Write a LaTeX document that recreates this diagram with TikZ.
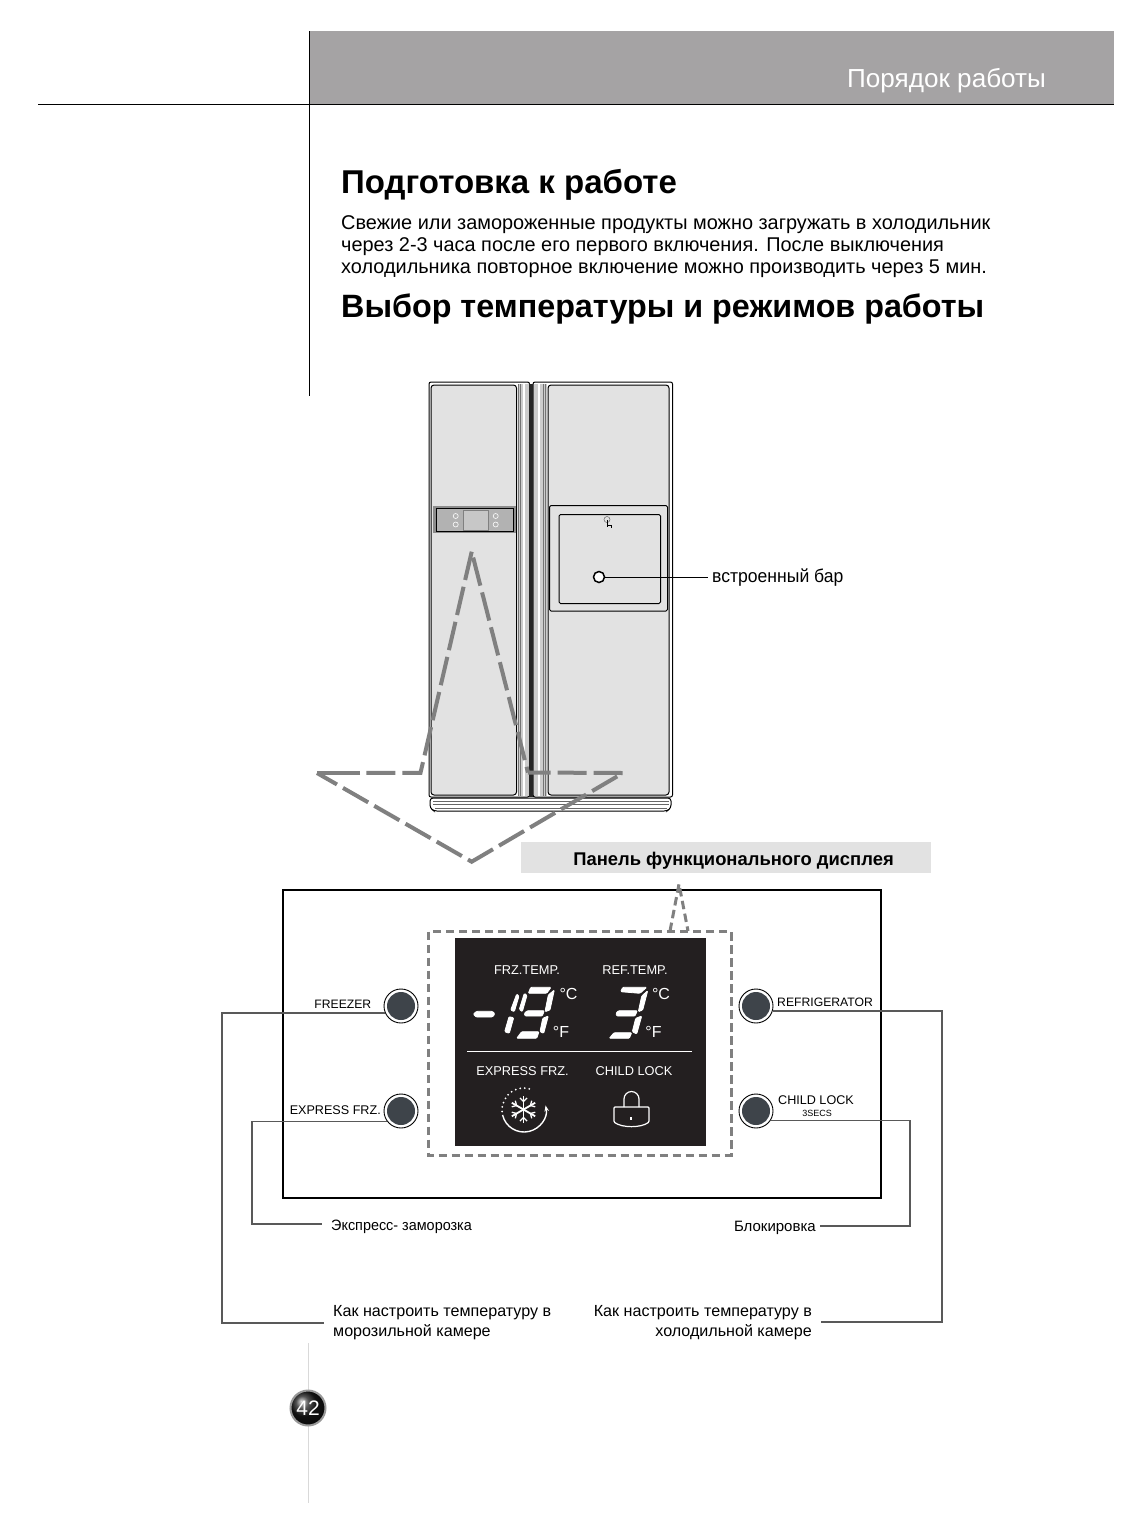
\documentclass[tikz,border=0pt]{standalone}
\usepackage{fontspec}
\setmainfont{Liberation Sans}
\usepackage{xcolor}
\usetikzlibrary{arrows.meta, positioning}
\definecolor{headgray}{HTML}{A5A3A4}
\definecolor{doorgray}{HTML}{E2E2E2}
\definecolor{dashgray}{HTML}{808080}
\definecolor{btngray}{HTML}{3E444A}
\definecolor{lcdblack}{HTML}{231F20}
\tikzset{
    txt/.style={inner sep=0pt, anchor=west, align=left},
    heading/.style={txt, font=\fontsize{32.3}{36}\selectfont\bfseries},
    bodytxt/.style={txt, font=\fontsize{19.9}{22.5}\selectfont},
    lbl/.style={inner sep=0pt, font=\fontsize{16.1}{20}\selectfont},
    btnlbl/.style={inner sep=0pt, font=\fontsize{12.6}{15}\selectfont},
    lcdlbl/.style={inner sep=0pt, text=white, font=\fontsize{12.8}{15}\selectfont},
    unitlbl/.style={lcdlbl, font=\fontsize{16}{17}\selectfont},
    btn/.style={circle, draw=black, line width=0.9pt, fill=white, minimum size=34pt, inner sep=0pt,
        path picture={\fill[btngray] (path picture bounding box.center) circle (14);}},
    conn/.style={draw=black!65, line width=1.4pt},
    guide/.style={draw=dashgray, line width=4pt, dash pattern=on 29pt off 7pt},
    smalldash/.style={draw=dashgray, line width=3pt, dash pattern=on 8.5pt off 4.5pt},
    door/.style={draw=black, line width=1pt, fill=doorgray, rounded corners=3pt},
    seg/.style={fill=white, draw=white, line width=0.8pt, rounded corners=1pt},
}
\begin{document}
\begin{tikzpicture}[x=1pt, y=-1pt]
    \useasboundingbox (0,0) rectangle (1120,1526);
    \fill[white] (0,0) rectangle (1120,1526);
    % header
    \fill[headgray] (309,31) rectangle (1114,104);
    \draw[line width=1pt] (38,104.5) -- (1114,104.5);
    \draw[line width=1pt] (309.5,31) -- (309.5,396);
    \node[txt, text=white, font=\fontsize{26.1}{30}\selectfont] (hdr) at (847,81) {Порядок работы};
    \node[heading, font=\fontsize{33}{36}\selectfont\bfseries] (title1) at (341,184.5) {Подготовка к работе};
    \node[bodytxt] (intro1) at (341,225) {Свежие или замороженные продукты можно загружать в холодильник};
    \node[bodytxt] (intro2) at (341,247) {через 2-3 часа после его первого включения. После выключения};
    \node[bodytxt] (intro3) at (341,269) {холодильника повторное включение можно производить через 5 мин.};
    \node[heading] (title2) at (341,309) {Выбор температуры и режимов работы};
    % fridge
    \draw[fill=white, rounded corners=2pt, line width=1pt] (429,382) rectangle (529.5,797);
    \draw[fill=white, rounded corners=2pt, line width=1pt] (533,382) rectangle (672.5,797);
    \draw[door] (431,385) rectangle (516.5,795);
    \draw[door] (548,385) rectangle (669,795);
    \fill[black!20] (518,384) rectangle (528.5,796);
    \fill[black!20] (534,384) rectangle (546.5,796);
    \draw[line width=1.6pt, white] (524,384) -- (524,796) (539,384) -- (539,796);
    \draw[line width=0.6pt, black!55] (518.5,384) -- (518.5,796) (520.5,384) -- (520.5,796)
        (545.5,384) -- (545.5,796) (543.5,384) -- (543.5,796);
    \fill[black!85] (528.5,384) rectangle (533,797);
    \draw[line width=1pt, fill=white, rounded corners=3pt] (430,798) -- (671,798) -- (671,808) -- (667,811) -- (434,811) -- (430,808) -- cycle;
    \draw[line width=0.5pt, black!60] (433,801) -- (669,801) (433,804) -- (669,804) (435,808) -- (667,808);
    % fridge panel
    \fill[black!45] (433,506) rectangle (515.5,533);
    \draw[fill=black!30, line width=1pt] (436,508.5) rectangle (513,531);
    \draw[fill=black!22, draw=black!50, line width=0.5pt] (463.5,510) rectangle (488,530);
    \foreach \cx/\cy [count=\i] in {455.7/516, 455.7/524.5, 495.7/516, 495.7/524.5} {
        \node[circle, draw=white, line width=0.6pt, minimum size=5pt, inner sep=0pt] (led\i) at (\cx,\cy) {};
    }
    % bar
    \draw[line width=1pt, rounded corners=1.5pt] (549.5,505.5) rectangle (667.5,611);
    \draw[line width=1pt, rounded corners=1.5pt] (559,514.5) rectangle (660.5,603.5);
    \node[circle, draw=black!60, line width=0.5pt, minimum size=6pt, inner sep=0pt] (knob) at (607,519.5) {};
    \draw[line width=1pt] (607,520) -- (607,527) (608,525) -- (611,525) -- (611,528);
    \node[circle, draw=black, line width=1.5pt, fill=white, minimum size=11pt, inner sep=0pt] (bar) at (599,577) {};
    \coordinate (barend) at (708,577);
    \draw[line width=1pt] (bar) -- (barend);
    \node[txt, font=\fontsize{18.5}{20}\selectfont\addfontfeature{FakeStretch=0.95}] (barlbl) at (712,577.5) {встроенный бар};
    % guide lines
    \coordinate (apex) at (471.7,551.7);
    \coordinate (lc) at (420.5,772.8);
    \coordinate (lm) at (360,773);
    \coordinate (lt) at (317,773);
    \coordinate (bot) at (471.7,861.7);
    \coordinate (rt) at (623,773);
    \coordinate (rc) at (528,772.5);
    \draw[guide] (apex) -- (lc) -- (lm);
    \draw[guide, solid] (lm) -- (lt);
    \draw[guide, dash phase=6] (lt) -- (bot) -- (rt) -- (rc);
    \draw[guide, dash phase=30] (apex) -- (rc);
    \fill[doorgray] (521,842) rectangle (931,873);
    \node[inner sep=0pt, font=\fontsize{18.4}{20}\selectfont\bfseries] (paneltitle) at (733.5,860.5) {Панель функционального дисплея};
    % panel
    \node[draw=black, line width=1.5pt, minimum width=598pt, minimum height=308pt, inner sep=0pt] (panel) at (582,1044) {};
    \fill[white] (660,925) rectangle (700,935);
    \draw[smalldash] (428,931.5) rectangle (731,1155);
    \draw[smalldash] (670,931) -- (679,884) -- (688,931);
    \fill[lcdblack] (455,938) rectangle (706,1146);
    \node[lcdlbl] (frz) at (527,970) {FRZ.TEMP.};
    \node[lcdlbl] (ref) at (635,970) {REF.TEMP.};
    \node[unitlbl] (fc1) at (568.5,993.5) {°C};
    \node[unitlbl] (ff1) at (561,1032) {°F};
    \node[unitlbl] (fc2) at (661,993.5) {°C};
    \node[unitlbl] (ff2) at (653.5,1032) {°F};
    % digits
    \path[seg] (473.3,1014) -- (476.7,1011.3) -- (492.3,1011.3) -- (495,1014) -- (492.3,1017) -- (476,1017) -- cycle;
    \path[seg] (516.7,994) -- (519,996) -- (514.3,1011.7) -- (510.7,1010) -- cycle;
    \path[seg] (524.3,993.3) -- (527,995.3) -- (522.3,1011.7) -- (519.3,1009.3) -- cycle;
    \path[seg] (509,1016.7) -- (513.7,1017.7) -- (509.3,1033.3) -- (504.7,1031.7) -- cycle;
    \path[seg] (530.7,987.3) -- (551,987.3) -- (546.7,993.3) -- (528.3,993.3) -- cycle;
    \path[seg] (554.3,990) -- (550,1010) -- (545,1011.7) -- (548.3,995) -- cycle;
    \path[seg] (524.3,1013.3) -- (527.3,1010.7) -- (544.3,1010.7) -- (542.3,1016) -- (525,1016) -- cycle;
    \path[seg] (548.3,1016) -- (543.7,1033.3) -- (540,1031.7) -- (542.7,1018.3) -- cycle;
    \path[seg] (521.7,1031.7) -- (539,1031.7) -- (536.7,1038.3) -- (516.7,1038.3) -- cycle;
    \path[seg] (622.7,987.3) -- (646.7,987.3) -- (640,993.3) -- (620.7,991.7) -- cycle;
    \path[seg] (647.7,990.7) -- (642.7,1010) -- (638.3,1011.7) -- (641.7,996) -- cycle;
    \path[seg] (616,1013.3) -- (618.3,1010.7) -- (637.3,1010.7) -- (635,1016) -- (616.7,1016) -- cycle;
    \path[seg] (641.7,1016) -- (636.7,1034) -- (632.3,1031.7) -- (635.7,1018.3) -- cycle;
    \path[seg] (614,1032.7) -- (631.7,1032.7) -- (629.3,1038.3) -- (609.3,1038.3) -- cycle;
    \draw[white, line width=1pt] (467,1051.5) -- (692,1051.5);
    \node[lcdlbl] (expr) at (522.5,1071) {EXPRESS FRZ.};
    \node[lcdlbl] (lock) at (634,1071) {CHILD LOCK};
    % express icon
    \coordinate (ring) at (524,1110);
    \coordinate (flake) at (523.5,1109.5);
    \draw[white, line width=2pt, line cap=round, dash pattern=on 0pt off 4.6pt] (ring) ++(176:22) arc[start angle=176, end angle=290, radius=22];
    \draw[white, line width=1.4pt, -{Stealth[length=6pt]}] (ring) ++(167:22) arc[start angle=167, end angle=-12, radius=22];
    \foreach \a in {30,90,...,330} {
        \draw[white, line width=1.8pt] (flake) -- ++(\a:13.5);
        \draw[white, line width=1.3pt] (flake) ++(\a:8) -- ++(\a+45:5);
        \draw[white, line width=1.3pt] (flake) ++(\a:8) -- ++(\a-45:5);
    }
    % lock icon
    \draw[white, line width=1.2pt, rounded corners=1pt] (614,1107) -- (649,1107) -- (649,1122) .. controls (641,1128) and (622,1128) .. (614,1122) -- cycle;
    \draw[white, line width=1.2pt] (624,1107) -- (624,1099) arc[start angle=180, end angle=360, radius=7.5] -- (639,1107);
    \fill[white] (630,1116.5) rectangle (631.5,1119.5);
    % buttons
    \node[btn] (freezer) at (401,1006) {};
    \node[btn] (express) at (401,1111) {};
    \node[btn] (refrig) at (756,1006) {};
    \node[btn] (child) at (756,1111) {};
    \node[btnlbl, anchor=east, font=\fontsize{12.2}{15}\selectfont] (freezerlbl) at (371.5,1004) {FREEZER};
    \node[btnlbl, anchor=east] (expresslbl) at (381,1110) {EXPRESS FRZ.};
    \node[btnlbl, anchor=west, font=\fontsize{12.2}{15}\selectfont] (refriglbl) at (777,1002) {REFRIGERATOR};
    \node[btnlbl, anchor=west] (childlbl) at (778,1100) {CHILD LOCK};
    \node[inner sep=0pt, font=\fontsize{9}{10}\selectfont] (secslbl) at (817,1113) {3SECS};
    % callouts
    \node[txt, font=\fontsize{15}{20}\selectfont\addfontfeature{FakeStretch=0.96}] (expresstxt) at (331,1227) {Экспресс- заморозка};
    \node[lbl, anchor=east, font=\fontsize{15}{20}\selectfont] (blocktxt) at (816,1228) {Блокировка};
    \node[lbl, txt] (frztxt) at (333,1323) {Как настроить температуру в\\морозильной камере};
    \node[lbl, anchor=east, align=right] (reftxt) at (812,1323) {Как настроить температуру в\\холодильной камере};
    \coordinate (c1) at (222,1013);
    \coordinate (c2) at (222,1323);
    \coordinate (c3) at (324,1323);
    \coordinate (c4) at (252,1121);
    \coordinate (c5) at (252,1224);
    \coordinate (c6) at (322,1224);
    \coordinate (c7) at (942,1011);
    \coordinate (c8) at (942,1322);
    \coordinate (c9) at (821,1322);
    \coordinate (c10) at (910,1120);
    \coordinate (c11) at (910,1226);
    \coordinate (c12) at (820,1226);
    \draw[conn] (freezer.204) -- (freezer.204 -| c1) -- (c2) -- (c3);
    \draw[conn] (express.216) -- (express.216 -| c4) -- (c5) -- (c6);
    \draw[conn] (refrig.-17) -- (refrig.-17 -| c7) -- (c8) -- (c9);
    \draw[conn] (child.-32) -- (child.-32 -| c10) -- (c11) -- (c12);
    % page number
    \draw[black!15, line width=1pt] (308.5,1343) -- (308.5,1503);
    \node[circle, draw=black!40, line width=2pt, shading=ball, ball color=black!90, minimum size=35pt, inner sep=0pt, text=white, font=\fontsize{21}{25}\selectfont] (pagenum) at (308,1408) {42};
\end{tikzpicture}
\end{document}
